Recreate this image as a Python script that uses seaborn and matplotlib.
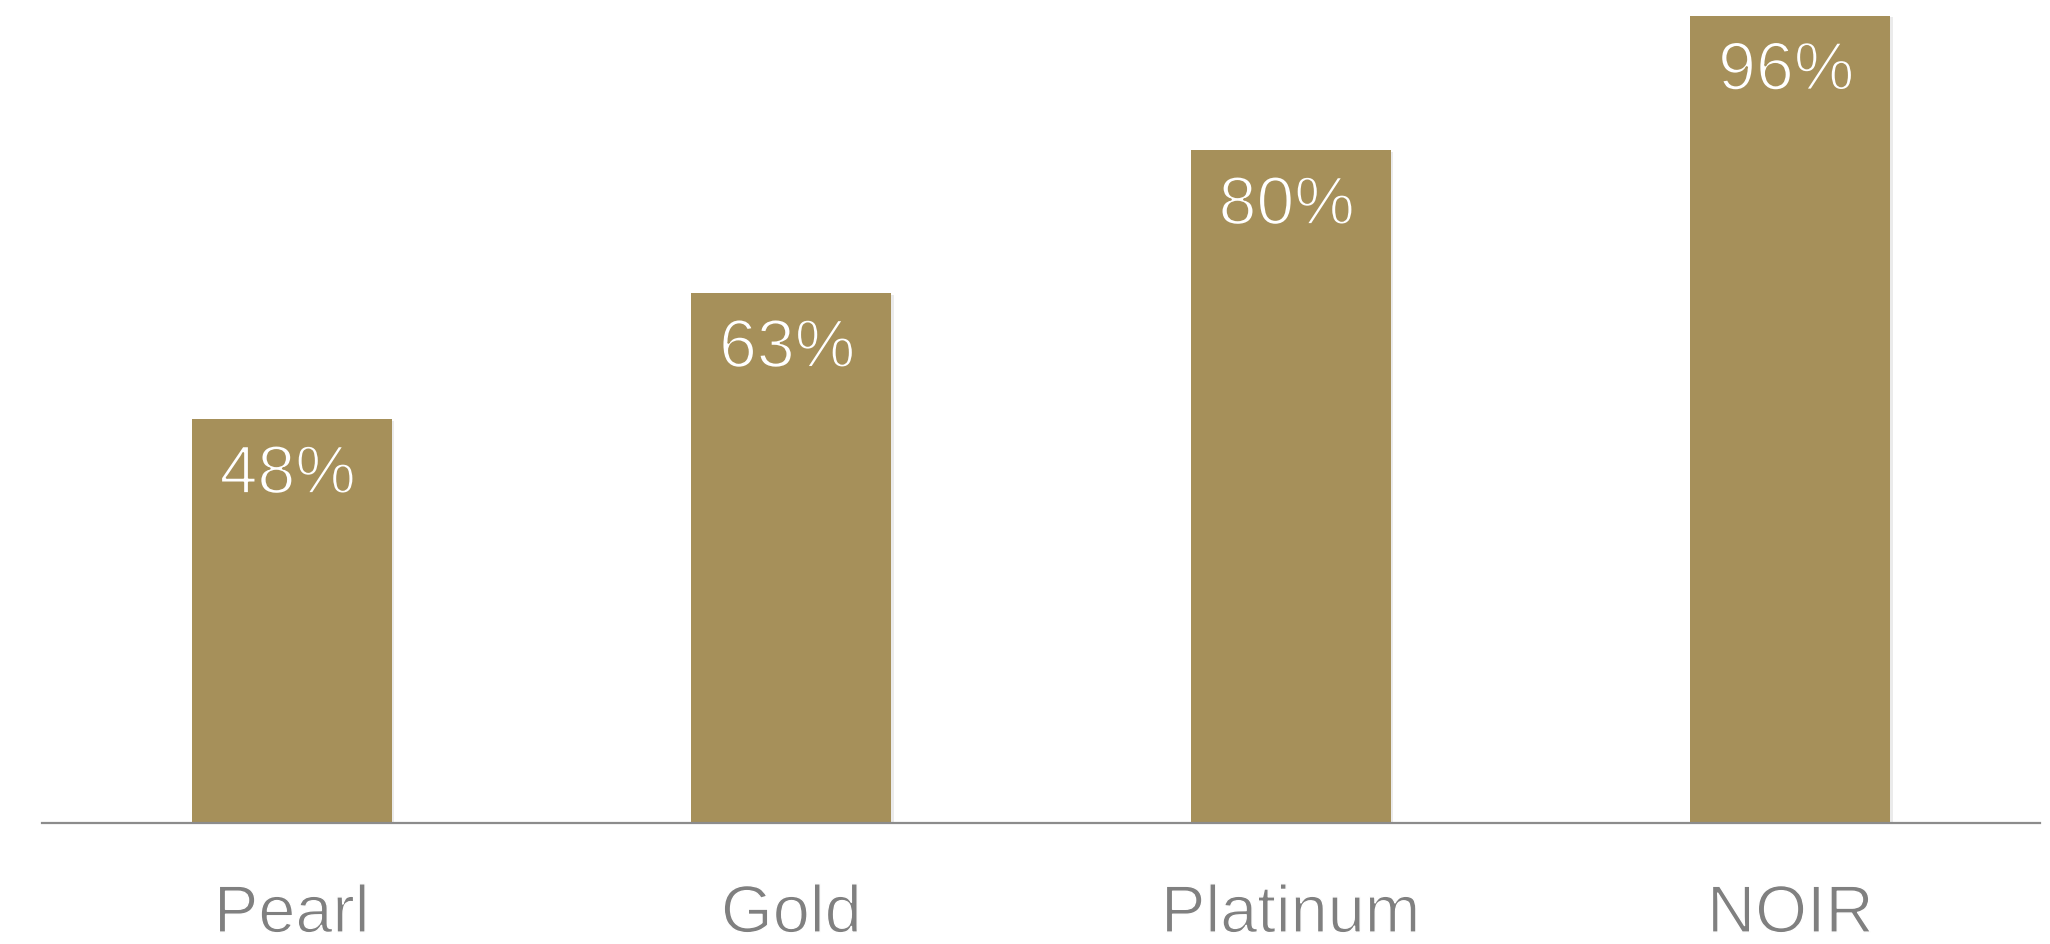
import matplotlib
matplotlib.use("Agg")
import matplotlib.pyplot as plt
import matplotlib.patheffects as pe
import seaborn as sns
import pandas as pd

# Membership tiers and their share values (%)
tiers = ["Pearl", "Gold", "Platinum", "NOIR"]
shares = [48, 63, 80, 96]
share_labels = ["48%", "63%", "80%", "96%"]

BAR_COLOR = "#A6905A"

sns.set_theme(style="white")
plt.rcParams["font.family"] = ["Liberation Sans", "DejaVu Sans"]

df = pd.DataFrame({"tier": tiers, "share": shares})

fig = plt.figure(figsize=(20.5, 9.44), dpi=100)
ax = fig.add_axes([42 / 2050, 121 / 944, 1998 / 2050, 823 / 944])

sns.barplot(data=df, x="tier", y="share", color=BAR_COLOR, saturation=1,
            width=0.4, ax=ax)

for patch in ax.patches:
    patch.set_edgecolor("none")
    patch.set_path_effects([
        pe.SimplePatchShadow(offset=(2, -1), shadow_rgbFace="#000000", alpha=0.08),
        pe.Normal(),
    ])

# value labels inside the top of each bar (thin strokes via a bar-coloured outline)
for i, (v, lab) in enumerate(zip(shares, share_labels)):
    ax.annotate(lab, xy=(i, v), xytext=(-3, -17), textcoords="offset points",
                ha="center", va="top", color="white", fontsize=49,
                path_effects=[pe.Stroke(linewidth=1.4, foreground=BAR_COLOR)])

ax.set_xlim(-0.5, 3.5)
ax.set_ylim(0, 97.9)
ax.set_xlabel("")
ax.set_ylabel("")
ax.set_yticks([])
ax.set_xticks(range(len(tiers)))
ax.set_xticklabels(tiers, fontsize=48, color="#808080")
for lbl in ax.get_xticklabels():
    lbl.set_path_effects([pe.Stroke(linewidth=1.0, foreground="white")])
ax.tick_params(axis="x", length=0, pad=44)

for side in ["top", "right", "left"]:
    ax.spines[side].set_visible(False)
ax.spines["bottom"].set_color("#8c8c8c")
ax.spines["bottom"].set_linewidth(1.6)

fig.savefig("out.png", dpi=100, facecolor="white")
